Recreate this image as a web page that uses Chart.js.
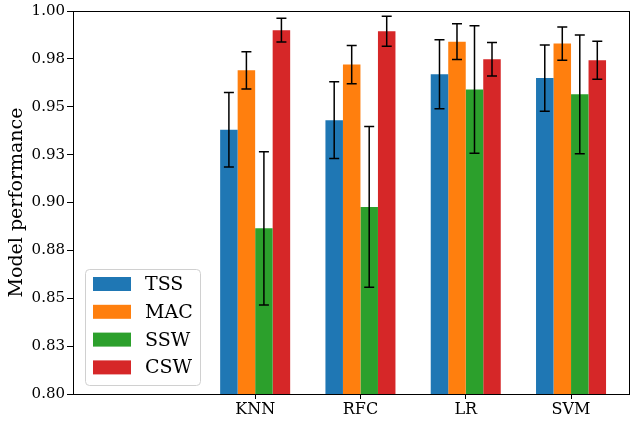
<!DOCTYPE html>
<html>
<head>
<meta charset="utf-8">
<script src="https://cdn.jsdelivr.net/npm/chart.js@4/dist/chart.umd.min.js"></script>
<style>
  html, body { margin: 0; padding: 0; background: #fff; }
  canvas { display: block; }
</style>
</head>
<body>
<canvas id="perfChart" width="631" height="424"></canvas>
<script>
// Chart data
const categories = ["KNN", "RFC", "LR", "SVM"];
const seriesNames = ["TSS", "MAC", "SSW", "CSW"];
const seriesColors = ["#1f77b4", "#ff7f0e", "#2ca02c", "#d62728"];

const tssValues = [0.938, 0.943, 0.967, 0.965];
const macValues = [0.969, 0.972, 0.984, 0.983];
const sswValues = [0.8865, 0.8977, 0.959, 0.9565];
const cswValues = [0.990, 0.9894, 0.9748, 0.9743];

const tssErrors = [0.0195, 0.020, 0.018, 0.0173];
const macErrors = [0.0097, 0.010, 0.0093, 0.0087];
const sswErrors = [0.040, 0.042, 0.0333, 0.031];
const cswErrors = [0.0062, 0.0078, 0.0087, 0.0099];

const yTickValues = [0.8, 0.825, 0.85, 0.875, 0.9, 0.925, 0.95, 0.975, 1.0];
const yTickLabels = ["0.80", "0.83", "0.85", "0.88", "0.90", "0.93", "0.95", "0.98", "1.00"];

const allValues = [tssValues, macValues, sswValues, cswValues];
const allErrors = [tssErrors, macErrors, sswErrors, cswErrors];

const FONT = "'DejaVu Serif', serif";

// Build datasets (bars sit at x = 1..4 on a linear axis)
const datasets = seriesNames.map((name, s) => ({
    label: name,
    data: allValues[s].map((v, i) => ({ x: i + 1, y: v })),
    errors: allErrors[s],
    backgroundColor: seriesColors[s],
    borderWidth: 0,
    categoryPercentage: 0.665,
    barPercentage: 1.0
}));

// Error bars with caps
const errorBarPlugin = {
    id: "errorBars",
    afterDatasetsDraw(chart) {
        const ctx = chart.ctx;
        const yScale = chart.scales.y;
        ctx.save();
        ctx.strokeStyle = "#000";
        ctx.lineWidth = 1.5;
        chart.data.datasets.forEach((ds, s) => {
            const meta = chart.getDatasetMeta(s);
            meta.data.forEach((bar, i) => {
                const v = ds.data[i].y;
                const e = ds.errors[i];
                const top = yScale.getPixelForValue(v + e);
                const bottom = yScale.getPixelForValue(v - e);
                const x = bar.x;
                ctx.beginPath();
                ctx.moveTo(x, top); ctx.lineTo(x, bottom);
                ctx.moveTo(x - 5, top); ctx.lineTo(x + 5, top);
                ctx.moveTo(x - 5, bottom); ctx.lineTo(x + 5, bottom);
                ctx.stroke();
            });
        });
        ctx.restore();
    }
};

// Matplotlib-like legend inside the axes, lower left
const insideLegendPlugin = {
    id: "insideLegend",
    afterDraw(chart) {
        const ctx = chart.ctx;
        const area = chart.chartArea;
        const x0 = area.left + 12, y0 = area.bottom - 125;
        const w = 115, h = 116;
        ctx.save();
        ctx.fillStyle = "rgba(255,255,255,0.8)";
        ctx.strokeStyle = "#d0d0d0";
        ctx.lineWidth = 1;
        ctx.beginPath();
        ctx.roundRect(x0 + 0.5, y0 + 0.5, w, h, 4);
        ctx.fill();
        ctx.stroke();
        ctx.font = "19px " + FONT;
        ctx.textBaseline = "middle";
        chart.data.datasets.forEach((ds, s) => {
            const cy = y0 + 15 + s * 27.8;
            ctx.fillStyle = ds.backgroundColor;
            ctx.fillRect(x0 + 8, cy - 7, 38, 14);
            ctx.fillStyle = "#000";
            ctx.fillText(ds.label, x0 + 60, cy + 1);
        });
        ctx.restore();
    }
};

// Full box around the axes
const framePlugin = {
    id: "frame",
    afterDraw(chart) {
        const a = chart.chartArea;
        const ctx = chart.ctx;
        ctx.save();
        ctx.strokeStyle = "#000";
        ctx.lineWidth = 1;
        ctx.strokeRect(Math.round(a.left) + 0.5, Math.round(a.top) + 0.5,
            Math.round(a.right - a.left) - 1, Math.round(a.bottom - a.top));
        ctx.restore();
    }
};

new Chart(document.getElementById("perfChart"), {
    type: "bar",
    data: { datasets },
    options: {
        responsive: false,
        animation: false,
        layout: { padding: { top: 11, right: 1, left: 0, bottom: 0 } },
        plugins: {
            legend: { display: false },
            tooltip: { enabled: false }
        },
        scales: {
            x: {
                type: "linear",
                min: -0.73,
                max: 4.56,
                offset: false,
                grid: { offset: false, drawOnChartArea: false, drawTicks: true, tickLength: 5, tickColor: "#000" },
                border: { display: false },
                afterBuildTicks(scale) {
                    scale.ticks = categories.map((c, i) => ({ value: i + 1 }));
                },
                ticks: {
                    color: "#000",
                    font: { family: FONT, size: 16 },
                    padding: 1,
                    maxRotation: 0,
                    autoSkip: false,
                    callback: (value) => categories[Math.round(value) - 1] || ""
                },
                afterFit(scale) { scale.height = 30; }
            },
            y: {
                min: 0.8,
                max: 1.0,
                grid: { drawOnChartArea: false, drawTicks: true, tickLength: 6, tickColor: "#000" },
                border: { display: false },
                afterBuildTicks(scale) {
                    scale.ticks = yTickValues.map(v => ({ value: v }));
                },
                ticks: {
                    color: "#000",
                    font: { family: FONT, size: 15 },
                    padding: 2,
                    autoSkip: false,
                    callback: (value, index) => yTickLabels[index]
                },
                title: {
                    display: true,
                    text: "Model performance",
                    color: "#000",
                    font: { family: FONT, size: 19 },
                    padding: { top: 6, bottom: 2 }
                },
                afterFit(scale) { scale.width = 73; }
            }
        }
    },
    plugins: [errorBarPlugin, insideLegendPlugin, framePlugin]
});
</script>
</body>
</html>
